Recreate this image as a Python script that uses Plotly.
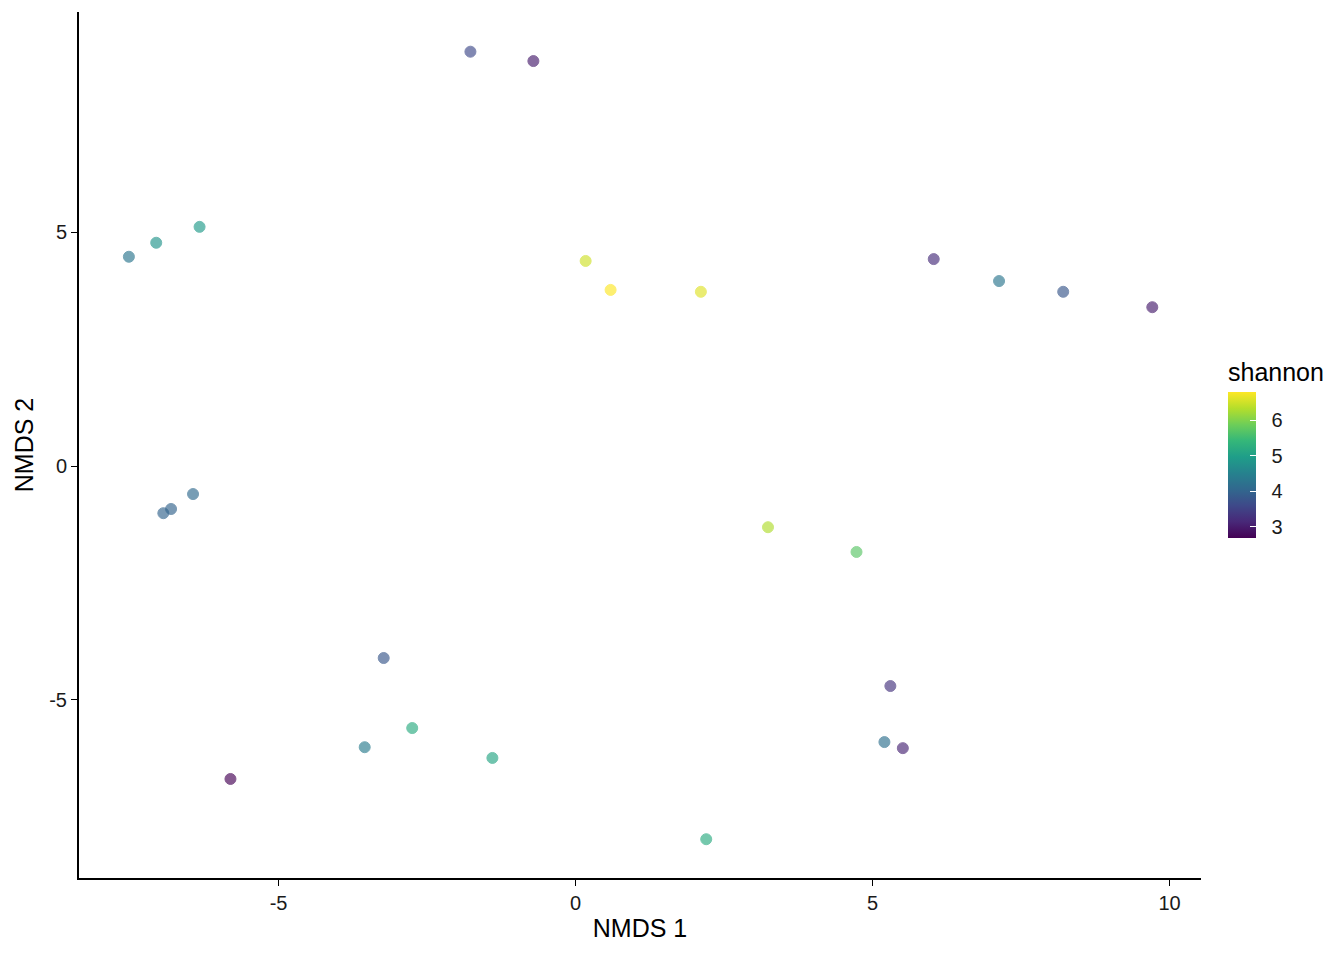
import plotly.graph_objects as go

nmds1 = [-1.77, -0.71, -7.52, -7.06, -6.33, 0.17, 0.59, 2.11, 6.03, 7.13, 8.21, 9.71,
         -6.94, -6.81, -6.44, 3.24, 4.73, -3.23, 5.30, -2.75, -3.55, -1.40, 5.20, 5.51,
         -5.81, 2.20]
nmds2 = [8.87, 8.67, 4.48, 4.78, 5.12, 4.39, 3.77, 3.73, 4.43, 3.96, 3.73, 3.40,
         -1.01, -0.92, -0.60, -1.31, -1.84, -4.11, -4.71, -5.61, -6.02, -6.25, -5.91, -6.04,
         -6.70, -7.99]
shannon = [3.6, 3.0, 4.3, 4.8, 4.9, 6.5, 6.79, 6.6, 3.2, 4.3, 3.8, 3.0,
           4.0, 4.0, 4.1, 6.3, 5.7, 3.8, 3.3, 5.2, 4.4, 5.1, 4.2, 3.1,
           2.69, 5.2]
x_ticks = [-5, 0, 5, 10]
x_labels = ["-5", "0", "5", "10"]
y_ticks = [-5, 0, 5]
y_labels = ["-5", "0", "5"]
cb_ticks = [3, 4, 5, 6]

W, H = 1344, 960
# page has an 8px body offset; plot area lands at x 79..1201, y 12..878 on screen
OFF = 8
L, R, T, B = 79 - OFF, 1201 - OFF, 12 - OFF, 878 - OFF
font = "Liberation Sans, Arial, sans-serif"

fig = go.Figure()
fig.add_trace(go.Scatter(
    x=nmds1, y=nmds2, mode="markers",
    marker=dict(
        size=11, color=shannon, colorscale="Viridis", cmin=2.69, cmax=6.79,
        opacity=0.65,
        line=dict(width=1, color=shannon, colorscale="Viridis", cmin=2.69, cmax=6.79),
        colorbar=dict(
            title=dict(text="shannon", side="top", font=dict(size=25, color="black", family=font)),
            thickness=28, thicknessmode="pixels",
            len=179, lenmode="pixels",
            x=(1228 - OFF - L) / (R - L), xanchor="left",
            y=(B - (538 - OFF)) / (B - T), yanchor="bottom",
            outlinewidth=0,
            tickvals=cb_ticks, ticktext=["\u00a0\u00a0" + str(v) for v in cb_ticks],
            ticks="inside", ticklen=6, tickcolor="white",
            tickfont=dict(size=20, color="#1a1a1a", family=font),
            xpad=0, ypad=0,
        ),
    ),
    showlegend=False,
))

fig.update_layout(
    width=W, height=H,
    margin=dict(l=L, r=W - R, t=T, b=H - B, autoexpand=False),
    plot_bgcolor="white", paper_bgcolor="white",
    font=dict(family=font, color="black"),
    xaxis=dict(
        range=[-8.36, 10.53], tickvals=x_ticks, ticktext=x_labels, showgrid=False, zeroline=False,
        showline=True, linecolor="black", linewidth=2, automargin=False,
        ticks="outside", ticklen=6, tickcolor="black", tickwidth=1,
        tickfont=dict(size=20, color="#1a1a1a"),
        title=dict(text="NMDS 1", font=dict(size=25), standoff=6),
    ),
    yaxis=dict(
        range=[-8.82, 9.72], tickvals=y_ticks, ticktext=y_labels, showgrid=False, zeroline=False,
        showline=True, linecolor="black", linewidth=2, automargin=False,
        ticks="outside", ticklen=6, tickcolor="black", tickwidth=1,
        tickfont=dict(size=20, color="#1a1a1a"),
        title=dict(text="NMDS 2", font=dict(size=25), standoff=8),
    ),
)

fig.write_html("out.html")
